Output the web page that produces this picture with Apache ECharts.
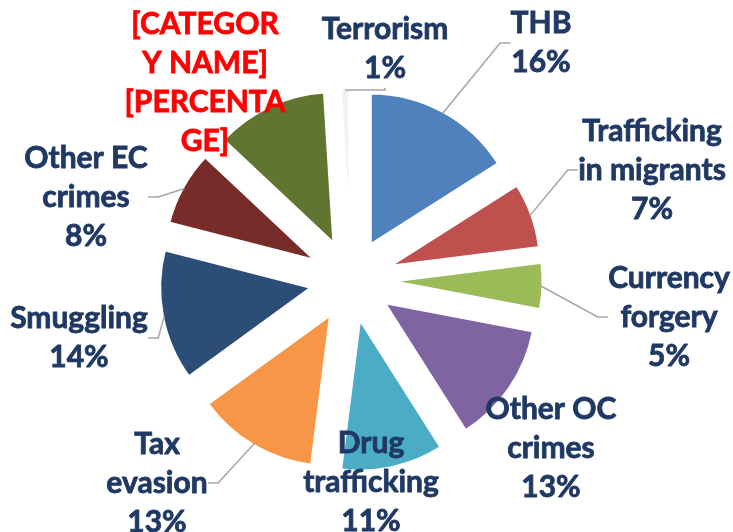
<!DOCTYPE html>
<html>
<head>
<meta charset="utf-8">
<title>Offence shares</title>
<script src="https://cdn.jsdelivr.net/npm/echarts@6/dist/echarts.min.js"></script>
<style>
  html, body { margin: 0; padding: 0; background: #fff; }
  #chart { width: 733px; height: 532px; }
</style>
</head>
<body>
<div id="chart"></div>
<script>
// slice names (clockwise from 12 o'clock) and their shares in %
var categories = ['THB', 'Trafficking\nin migrants', 'Currency\nforgery', 'Other OC\ncrimes',
  'Drug\ntrafficking', 'Tax\nevasion', 'Smuggling', 'Other EC\ncrimes', '[CATEGORY NAME]', 'Terrorism'];
var shares = [16, 7, 5, 13, 11, 13, 14, 8, 12, 1];
var sliceColors = ['#4f81bd', '#c0504d', '#9bbb59', '#8064a2', '#4bacc6', '#f79646',
  '#2c4d75', '#772c2a', '#5f7530', '#f2f2f2'];

// label block centres, and slices whose label has no leader line
var labelPos = [[541, 43], [652, 170], [669, 317], [551, 448], [371, 482],
  [157, 483], [79, 338], [86, 197], [205, 83], [385, 49]];
var noLine = [3, 4, 8];

var navy = '#1f3864';
var chart = echarts.init(document.getElementById('chart'));

// exploded slices (selected state gives the offset)
var sliceData = categories.map(function (name, i) {
  return { name: name, value: shares[i], selected: true, itemStyle: { color: sliceColors[i] } };
});

// an invisible copy of the pie, only used to carry the labels and leader lines
// (labels of selected slices ignore labelLayout, so they live here)
var labelData = categories.map(function (name, i) {
  var item = { name: name, value: shares[i] };
  if (noLine.indexOf(i) >= 0) item.labelLine = { show: false };
  if (name === '[CATEGORY NAME]') item.label = { color: '#ff0000', textBorderColor: '#ff0000' };
  return item;
});

chart.setOption({
  animation: false,
  backgroundColor: '#fff',
  series: [
    {
      type: 'pie',
      z: 2,
      center: [351, 280],
      radius: [0, 152],
      startAngle: 90,
      selectedMode: 'multiple',
      selectedOffset: 40,
      silent: true,
      itemStyle: { borderColor: '#fff', borderWidth: 3 },
      select: { itemStyle: { borderColor: '#fff', borderWidth: 3 } },
      label: { show: false },
      labelLine: { show: false },
      data: sliceData
    },
    {
      type: 'pie',
      z: 5,
      center: [351, 280],
      radius: [0, 190],
      startAngle: 90,
      silent: true,
      avoidLabelOverlap: false,
      itemStyle: { color: 'rgba(0,0,0,0)', borderWidth: 0 },
      label: {
        show: true,
        position: 'outside',
        fontFamily: 'Lato',
        fontWeight: 'bold',
        fontSize: 30,
        lineHeight: 39,
        color: navy,
        textBorderColor: navy,
        textBorderWidth: 0.8,
        align: 'center',
        formatter: function (p) {
          if (p.name === '[CATEGORY NAME]') return '[CATEGOR\nY NAME]\n[PERCENTA\nGE]';
          return p.name + '\n' + p.value + '%';
        }
      },
      labelLine: {
        show: true,
        length: 10,
        length2: 10,
        lineStyle: { color: '#a6a6a6', width: 1.5 }
      },
      labelLayout: function (params) {
        var pos = labelPos[params.dataIndex];
        return { x: pos[0], y: pos[1], align: 'center', verticalAlign: 'middle' };
      },
      data: labelData
    }
  ]
});
</script>
</body>
</html>
